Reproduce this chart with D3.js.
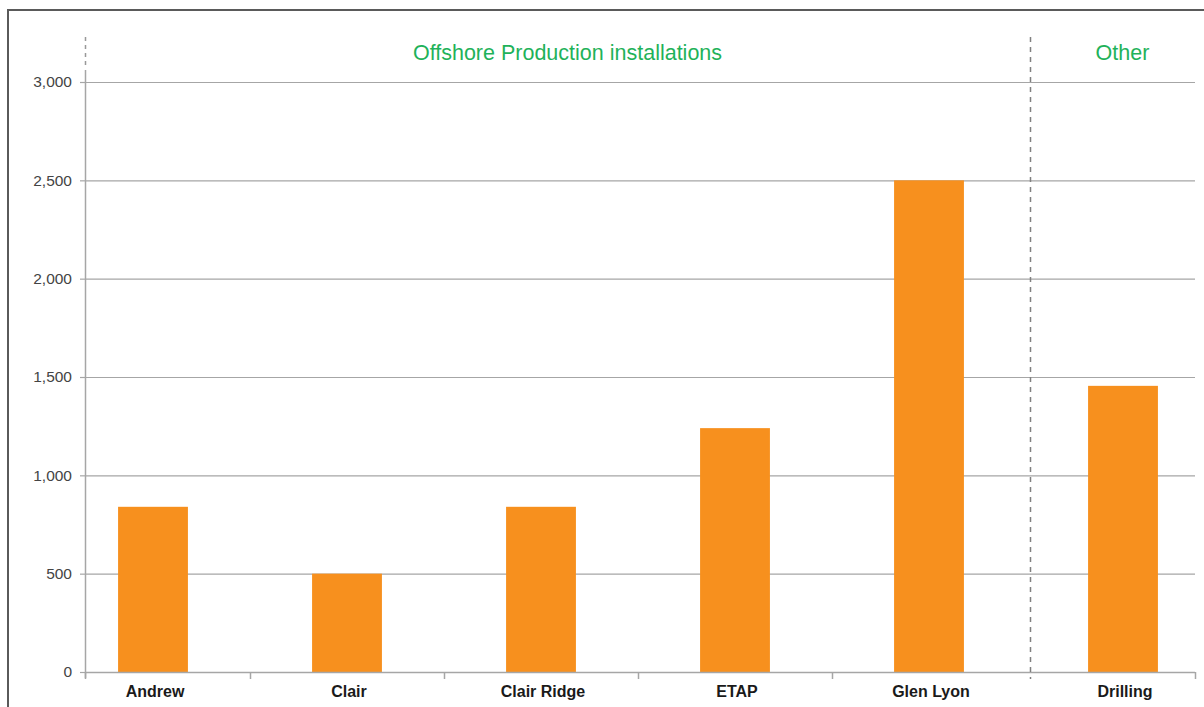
<!DOCTYPE html>
<html>
<head>
<meta charset="utf-8">
<script src="https://cdn.jsdelivr.net/npm/d3@7/dist/d3.min.js"></script>
<style>
  html, body { margin: 0; padding: 0; background: #fff; }
  svg { display: block; font-family: "Liberation Sans", Arial, Helvetica, sans-serif; }
</style>
</head>
<body>
<svg id="chart" width="1204" height="707"></svg>
<script>
// Installation names and values
const categories = ["Andrew", "Clair", "Clair Ridge", "ETAP", "Glen Lyon", "Drilling"];
const values = [840, 500, 840, 1240, 2500, 1455];
const groups = [
  { label: "Offshore Production installations", first: "Andrew", last: "Glen Lyon" },
  { label: "Other", first: "Drilling", last: "Drilling" }
];
const yTicks = [0, 500, 1000, 1500, 2000, 2500, 3000];

const svg = d3.select("#chart");
const W = 1204, H = 707;

const axisLeft = 85, axisRight = 1195;
const yTop = 82, yBottom = 672;

const x = d3.scaleBand()
  .domain(categories)
  .range([56, 1220])
  .paddingInner(0.64)
  .paddingOuter(0.32);

const y = d3.scaleLinear().domain([0, 3000]).range([yBottom, yTop]);

const grey = "#a6a6a6";

// outer frame (top and left edges)
svg.append("path")
  .attr("d", `M8,${H} L8,10 L${W},10`)
  .attr("fill", "none")
  .attr("stroke", "#5a5a5a")
  .attr("stroke-width", 2);

// horizontal gridlines
svg.append("g").selectAll("line")
  .data(yTicks.filter(d => d > 0))
  .join("line")
  .attr("x1", axisLeft).attr("x2", axisRight)
  .attr("y1", d => y(d) + 0.5).attr("y2", d => y(d) + 0.5)
  .attr("stroke", grey).attr("stroke-width", 1.2);

// bars
svg.append("g").selectAll("rect")
  .data(categories.map((c, i) => ({ c, v: values[i] })))
  .join("rect")
  .attr("x", d => x(d.c))
  .attr("width", x.bandwidth())
  .attr("y", d => y(d.v))
  .attr("height", d => y(0) - y(d.v))
  .attr("fill", "#f7901e");

// y axis
const yAxis = d3.axisLeft(y)
  .tickValues(yTicks)
  .tickSize(5)
  .tickPadding(8)
  .tickFormat(d3.format(","));
const gy = svg.append("g").attr("transform", `translate(${axisLeft},0)`).call(yAxis);
gy.select(".domain").remove();
gy.selectAll(".tick line").attr("stroke", grey).attr("stroke-width", 1.2);
gy.selectAll(".tick text")
  .attr("fill", "#444")
  .style("font-size", "15.5px")
  .style("font-family", "\"Liberation Sans\", Arial, sans-serif");
svg.append("line")
  .attr("x1", axisLeft + 0.5).attr("x2", axisLeft + 0.5)
  .attr("y1", 70).attr("y2", yBottom + 6)
  .attr("stroke", grey).attr("stroke-width", 1.5);
svg.append("line")
  .attr("x1", axisLeft + 0.5).attr("x2", axisLeft + 0.5)
  .attr("y1", 37).attr("y2", 68)
  .attr("stroke", "#999").attr("stroke-width", 1.5)
  .attr("stroke-dasharray", "4,4");

// x axis baseline
svg.append("line")
  .attr("x1", axisLeft).attr("x2", axisRight)
  .attr("y1", yBottom + 0.5).attr("y2", yBottom + 0.5)
  .attr("stroke", grey).attr("stroke-width", 1.5);

// category separator ticks
const step = x.step();
const boundaries = categories.slice(1).map(c => x(c) - (step - x.bandwidth()) / 2);
const divider = x("Drilling") - (step - x.bandwidth()) / 2;
svg.append("g").selectAll("line")
  .data([axisLeft, ...boundaries.filter(b => b !== divider), axisRight])
  .join("line")
  .attr("x1", d => d + 0.5).attr("x2", d => d + 0.5)
  .attr("y1", yBottom).attr("y2", yBottom + 7)
  .attr("stroke", grey).attr("stroke-width", 1.5);

// group divider
svg.append("line")
  .attr("x1", divider + 4.5).attr("x2", divider + 4.5)
  .attr("y1", 37).attr("y2", yBottom + 7)
  .attr("stroke", "#808080").attr("stroke-width", 1.5)
  .attr("stroke-dasharray", "5,5");

// category labels
svg.append("g").selectAll("text")
  .data(categories)
  .join("text")
  .attr("x", d => x(d) + x.bandwidth() / 2 + 2)
  .attr("y", 697)
  .attr("text-anchor", "middle")
  .attr("fill", "#1a1a1a")
  .style("font-size", "16px")
  .style("font-weight", "bold")
  .text(d => d);

// group headings
const groupStart = g => (g.first === categories[0] ? axisLeft : divider);
const groupEnd = g => (g.last === categories[categories.length - 1] ? axisRight : divider);
svg.append("g").selectAll("text")
  .data(groups)
  .join("text")
  .attr("x", g => (groupStart(g) + groupEnd(g)) / 2 + 12)
  .attr("y", 60)
  .attr("text-anchor", "middle")
  .attr("fill", "#1fb25a")
  .style("font-size", "21.5px")
  .text(g => g.label);
</script>
</body>
</html>
